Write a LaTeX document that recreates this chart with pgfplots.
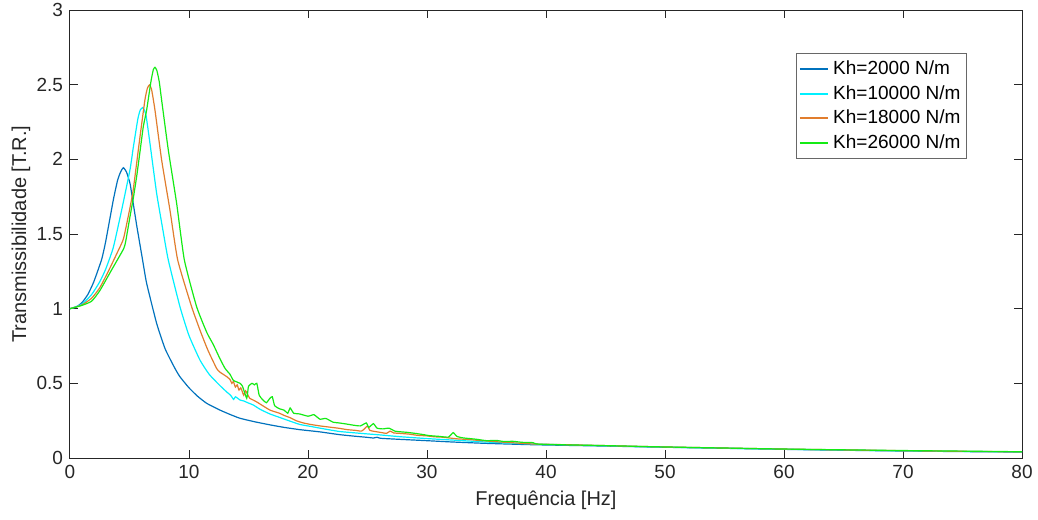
\documentclass[border=0pt]{standalone}
\usepackage{fontspec}
\setmainfont{Liberation Sans}
\usepackage{pgfplots}
\pgfplotsset{compat=1.18}
\definecolor{mblue}{RGB}{0,114,189}
\definecolor{mcyan}{RGB}{0,240,255}
\definecolor{morange}{RGB}{225,125,45}
\definecolor{mgreen}{RGB}{20,235,20}
\definecolor{axgray}{RGB}{38,38,38}
\begin{document}
\begin{tikzpicture}
\begin{axis}[
  name=ax,
  scale only axis,
  width=476pt, height=224pt,
  xmin=0, xmax=80, ymin=0, ymax=3,
  xtick={0,10,...,80},
  ytick={0,0.5,...,3},
  yticklabel style={/pgf/number format/.cd,fixed,precision=1},
  /pgf/number format/assume math mode=true,
  tick align=inside,
  major tick length=4pt,
  axis line style={draw=axgray, line width=0.5pt},
  tick style={draw=axgray, line width=0.5pt},
  ticklabel style={text=axgray, font=\fontsize{9.5}{11}\selectfont},
  xlabel={Frequência [Hz]},
  ylabel={Transmissibilidade [T.R.]},
  label style={text=axgray, font=\fontsize{10}{12}\selectfont},
  xlabel style={at={(axis description cs:0.5,0)},anchor=center,yshift=-21pt},
  ylabel style={at={([xshift=-24.5pt]axis description cs:0,0.5)},anchor=center},
  legend style={at={(rel axis cs:1,1)}, anchor=north east, xshift=-27.5pt, yshift=-21.5pt,
    draw=axgray!70, line width=0.5pt, font=\fontsize{9.5}{11.4}\selectfont, text=black,
    inner xsep=1pt, inner ysep=1.5pt, row sep=0pt},
  legend cell align=left,
  legend image code/.code={\draw[#1,line width=1pt] (0cm,0cm) -- (0.5cm,0cm);},
  every axis plot/.append style={line width=0.6pt, smooth, tension=0.3},
]
\addplot[mblue] table {
0 1.000
0.5 1.010
1.0 1.040
1.5 1.095
2.0 1.180
2.66 1.330
3.0 1.450
3.64 1.728
4.0 1.860
4.25 1.915
4.48 1.944
4.75 1.915
5.04 1.840
5.18 1.773
5.6 1.560
6.1 1.326
6.44 1.170
7.28 0.902
8.0 0.730
8.82 0.600
9.24 0.544
10.0 0.470
10.7 0.415
11.49 0.366
12.6 0.321
13.5 0.290
14.29 0.266
15.5 0.243
16.8 0.222
18.0 0.205
19.3 0.190
21.0 0.175
22.6 0.157
23.8 0.147
24.9 0.139
25.5 0.134
25.8 0.139
26.1 0.132
27.7 0.125
30.0 0.116
32.2 0.107
35.0 0.098
38.9 0.089
45 0.080
50 0.072
55 0.065
60 0.058
65 0.052
70 0.047
75 0.043
80 0.040
};
\addlegendentry{Kh=2000 N/m}
\addplot[mcyan] table {
0 1.000
1.0 1.030
1.82 1.095
2.5 1.180
3.0 1.265
3.64 1.410
4.34 1.660
5.04 1.930
5.32 2.080
5.7 2.270
5.9 2.330
6.1 2.346
6.25 2.330
6.4 2.290
6.72 2.107
7.28 1.773
7.8 1.530
8.26 1.326
9.24 1.013
10.0 0.820
10.92 0.656
11.7 0.560
12.6 0.485
13.2 0.440
13.5 0.420
13.75 0.392
13.9 0.410
14.3 0.388
14.6 0.382
15.0 0.368
15.4 0.355
16.0 0.325
16.8 0.295
17.5 0.275
18.2 0.255
19.3 0.225
20.2 0.212
21.0 0.200
22.6 0.178
24.0 0.168
24.9 0.162
26.0 0.155
27.7 0.143
30.0 0.130
32.2 0.120
35.0 0.107
38.9 0.094
45 0.082
50 0.073
60 0.059
70 0.048
80 0.041
};
\addlegendentry{Kh=10000 N/m}
\addplot[morange] table {
0 1.000
1.0 1.025
1.82 1.070
2.5 1.140
3.22 1.250
4.06 1.390
4.5 1.470
5.0 1.660
5.32 1.800
5.88 2.150
6.3 2.400
6.5 2.475
6.67 2.498
6.85 2.470
7.14 2.330
7.7 1.996
8.4 1.660
9.05 1.326
10.22 1.013
11.0 0.840
11.6 0.720
12.32 0.600
12.6 0.575
13.17 0.545
13.45 0.525
13.6 0.500
13.73 0.511
13.9 0.475
14.05 0.490
14.2 0.455
14.35 0.470
14.5 0.440
14.6 0.420
14.75 0.450
14.9 0.430
15.1 0.400
15.4 0.388
15.7 0.375
16.0 0.360
16.4 0.340
16.8 0.321
17.2 0.310
17.6 0.300
18.0 0.285
18.5 0.270
19.0 0.250
19.6 0.235
20.2 0.225
21.0 0.215
21.8 0.207
22.6 0.199
23.3 0.190
24.0 0.185
24.5 0.180
24.8 0.200
25.0 0.215
25.2 0.185
25.6 0.178
26.2 0.170
26.6 0.165
26.9 0.180
27.2 0.168
27.7 0.165
28.5 0.160
29.2 0.152
30.0 0.148
30.6 0.142
31.2 0.140
32.0 0.133
32.6 0.128
33.5 0.124
34.3 0.118
35.0 0.114
36.0 0.108
37.0 0.103
38.0 0.098
38.9 0.094
40 0.092
45 0.083
50 0.074
60 0.060
70 0.049
80 0.041
};
\addlegendentry{Kh=18000 N/m}
\addplot[mgreen] table {
0 1.000
1.0 1.022
1.82 1.050
2.5 1.120
3.5 1.260
4.5 1.400
4.68 1.450
5.04 1.616
5.32 1.740
5.6 1.884
5.88 2.050
6.16 2.219
6.44 2.330
6.8 2.520
7.0 2.600
7.14 2.616
7.3 2.595
7.5 2.520
7.7 2.397
8.26 2.063
8.96 1.706
9.61 1.326
10.64 1.013
11.5 0.840
12.04 0.760
12.6 0.665
13.03 0.600
13.45 0.560
13.73 0.520
14.29 0.500
14.5 0.480
14.85 0.400
15.0 0.480
15.3 0.500
15.5 0.490
15.7 0.500
15.9 0.420
16.2 0.390
16.5 0.370
16.8 0.400
17.0 0.410
17.2 0.350
17.6 0.330
18.0 0.320
18.3 0.300
18.5 0.335
18.8 0.300
19.3 0.295
20.0 0.280
20.5 0.290
21.0 0.260
21.5 0.265
22.1 0.240
22.6 0.235
23.2 0.228
23.8 0.220
24.4 0.215
24.9 0.235
25.1 0.205
25.5 0.230
25.8 0.200
26.3 0.195
26.8 0.200
27.3 0.180
27.7 0.176
28.3 0.172
29.0 0.165
29.6 0.158
30.2 0.150
31.0 0.145
31.8 0.140
32.2 0.170
32.5 0.145
33.0 0.135
33.6 0.130
34.2 0.125
35.0 0.116
35.8 0.118
36.5 0.110
37.2 0.112
38.0 0.105
38.9 0.103
39.5 0.092
45 0.083
50 0.074
60 0.060
70 0.050
80 0.042
};
\addlegendentry{Kh=26000 N/m}
\end{axis}
\pgfresetboundingbox
\useasboundingbox ([xshift=-35pt,yshift=-30.5pt]ax.south west) rectangle ([xshift=8pt,yshift=5pt]ax.north east);
\end{tikzpicture}
\end{document}
